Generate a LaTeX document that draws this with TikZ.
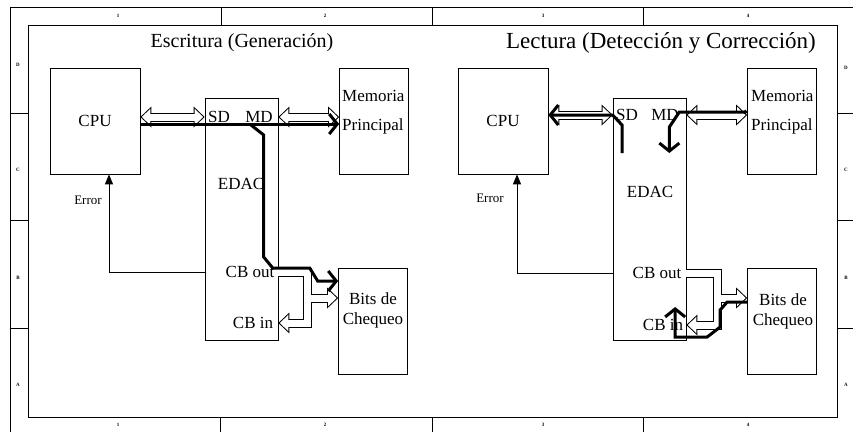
\documentclass[tikz,border=0pt]{standalone}
\usepackage{fontspec}
\setmainfont{Liberation Serif}
\usetikzlibrary{arrows.meta,calc}

\tikzset{
  box/.style={draw, line width=0.7pt, inner sep=0pt},
  lbl/.style={font=\fontsize{17}{20}\selectfont, inner sep=0pt},
  zone/.style={font=\fontsize{5}{6}\selectfont\bfseries, inner sep=0pt},
  bus/.style={
    preaction={draw=black, line width=9pt, shorten >=0pt, shorten <=0pt,
      arrows=-{Triangle[length=11pt,width=21pt,line width=0pt]}},
    draw=white, line width=7pt, shorten >=1.45pt,
    arrows=-{Triangle[length=8.55pt,width=16.3pt,line width=0pt]}},
  busboth/.style={
    preaction={draw=black, line width=9pt, shorten >=0pt, shorten <=0pt,
      arrows={Triangle[length=11pt,width=21pt,line width=0pt]}-{Triangle[length=11pt,width=21pt,line width=0pt]}},
    draw=white, line width=7pt, shorten >=1.45pt, shorten <=1.45pt,
    arrows={Triangle[length=8.55pt,width=16.3pt,line width=0pt]}-{Triangle[length=8.55pt,width=16.3pt,line width=0pt]}},
  flow/.style={line width=3pt, -{Straight Barb[length=8pt,width=20pt]}},
  errline/.style={line width=1pt, -{Triangle[length=10pt,width=8pt]}},
}

\begin{document}
\begin{tikzpicture}[x=1pt, y=-1pt]
    \useasboundingbox (0,0) rectangle (853,432);

    % Frame
    \draw[line width=0.7pt] (10,432) -- (10,7) -- (853,7);
    \draw[line width=0.7pt] (28,25) rectangle (837,417);
    \draw (221,7) -- (221,25);
    \draw (432,7) -- (432,25);
    \draw (643,7) -- (643,25);
    \draw (220,417) -- (220,432);
    \draw (432,417) -- (432,432);
    \draw (643,417) -- (643,432);
    \draw (10,113) -- (28,113);
    \draw (10,220) -- (28,220);
    \draw (10,328) -- (28,328);
    \draw (837,113) -- (853,113);
    \draw (837,220) -- (853,220);
    \draw (837,328) -- (853,328);
    \node[zone] (t1) at (118,16) {1};
    \node[zone] (t2) at (325,16) {2};
    \node[zone] (t3) at (543,16) {3};
    \node[zone] (t4) at (748,16) {4};
    \node[zone] (b1) at (118,425) {1};
    \node[zone] (b2) at (325,425) {2};
    \node[zone] (b3) at (543,425) {3};
    \node[zone] (b4) at (748,425) {4};
    \node[zone] (lD) at (18,65) {D};
    \node[zone] (lC) at (18,170) {C};
    \node[zone] (lB) at (18,278) {B};
    \node[zone] (lA) at (18,385) {A};
    \node[zone] (rD) at (846,68) {D};
    \node[zone] (rC) at (846,170) {C};
    \node[zone] (rB) at (846,278) {B};
    \node[zone] (rA) at (846,385) {A};

    % Escritura
    \begin{scope}[name prefix=e-]
        \node[font=\fontsize{20}{24}\selectfont] (title) at (242,43) {Escritura (Generación)};
        \node[box, lbl, minimum width=90pt, minimum height=106pt] (cpu) at (95,121) {CPU};
        \node[box, minimum width=73pt, minimum height=242pt] (edac) at (241.5,219) {};
        \node[box, minimum width=69pt, minimum height=106pt] (mem) at (374,121) {};
        \node[box, minimum width=69pt, minimum height=106pt] (bits) at (373,321) {};
        \node[lbl] (sd) at (219,117) {SD};
        \node[lbl] (md) at (259,117) {MD};
        \node[lbl] (edactxt) at (241,184) {EDAC};
        \node[lbl] (cbout) at (250,272) {CB out};
        \node[lbl] (cbin) at (253,323) {CB in};
        \node[lbl, anchor=west, align=left] (memtxt) at (342,112) {Memoria\\[9pt]Principal};
        \node[lbl, align=center] (bitstxt) at (373,310) {Bits de\\Chequeo};
        \node[font=\fontsize{13}{15}\selectfont] (err) at (88,200) {Error};

        \draw[busboth] (cpu.east |- sd) -- (edac.west |- sd);
        \draw[busboth] (edac.east |- md) -- (mem.west |- md);

        \draw[bus] (edac.east |- cbout) -- ++(29,0) |- (edac.east |- cbin);
        \coordinate (fork) at ($(edac.east |- cbout)+(32.5,26)$);
        \draw[bus] (fork) -- (fork -| bits.west);

        \coordinate (d1) at ($(cpu.east |- sd)+(0,7)$);
        \coordinate (d2) at ($(mem.west |- sd)+(0,7)$);
        \coordinate (tap) at ($(d1)!0.55!(d2)$);
        \draw[flow] (d1) -- (d2);
        \draw[flow] (tap) -- ++(14,11) -- ++(0,122) -- ++(9,11) -- ++(37,0) -- ++(8,13) coordinate (k) -- (k -| bits.west);

        \draw[errline] (edac.west |- cbout) -| ($(cpu.south)+(14,0)$);
    \end{scope}

    % Lectura
    \begin{scope}[xshift=408pt, name prefix=l-]
        \node[font=\fontsize{23}{27}\selectfont] (title) at (253,43) {Lectura (Detección y Corrección)};
        \node[box, lbl, minimum width=90pt, minimum height=106pt] (cpu) at (95,121) {CPU};
        \node[box, minimum width=73pt, minimum height=242pt] (edac) at (241.5,219) {};
        \node[box, minimum width=69pt, minimum height=106pt] (mem) at (374,121) {};
        \node[box, minimum width=69pt, minimum height=106pt] (bits) at (374,321) {};
        \node[lbl] (sd) at (219,115) {SD};
        \node[lbl] (md) at (257,115) {MD};
        \node[lbl] (edactxt) at (242,192) {EDAC};
        \node[lbl] (cbout) at (249,273) {CB out};
        \node[lbl] (cbin) at (255,325) {CB in};
        \node[lbl, anchor=west, align=left] (memtxt) at (343,112) {Memoria\\[9pt]Principal};
        \node[lbl, align=center] (bitstxt) at (375,311) {Bits de\\Chequeo};
        \node[font=\fontsize{13}{15}\selectfont] (err) at (82,198) {Error};

        \draw[busboth] (cpu.east |- sd) -- (edac.west |- sd);
        \draw[busboth] (edac.east |- md) -- (mem.west |- md);

        \draw[bus] (edac.east |- cbout) -- ++(31,0) |- (edac.east |- cbin);
        \coordinate (fork) at ($(edac.east |- cbout)+(34.5,25)$);
        \draw[bus] (fork) -- (fork -| bits.west);

        \coordinate (rd) at (214,153);
        \draw[flow] (rd) -- ++(0,-28) -- (edac.west |- sd) -- (cpu.east |- sd);
        \draw[flow, {Circle[length=4pt]}-{Straight Barb[length=8pt,width=20pt]}] ($(mem.west |- md)+(0,-3)$) -- ($(edac.east |- md)+(-7,-3)$) -- ++(-10,15) -- ++(0,26);
        \draw[flow] ($(bits.west)+(0,-19)$) -- ++(-20,0) -- ++(-7,8) -- ++(0,17) -- ++(-13,10) -- ++(-32,0) -- ++(0,-30);

        \draw[errline] (edac.west |- cbout) -| ($(cpu.south)+(14,0)$);
    \end{scope}
\end{tikzpicture}
\end{document}
